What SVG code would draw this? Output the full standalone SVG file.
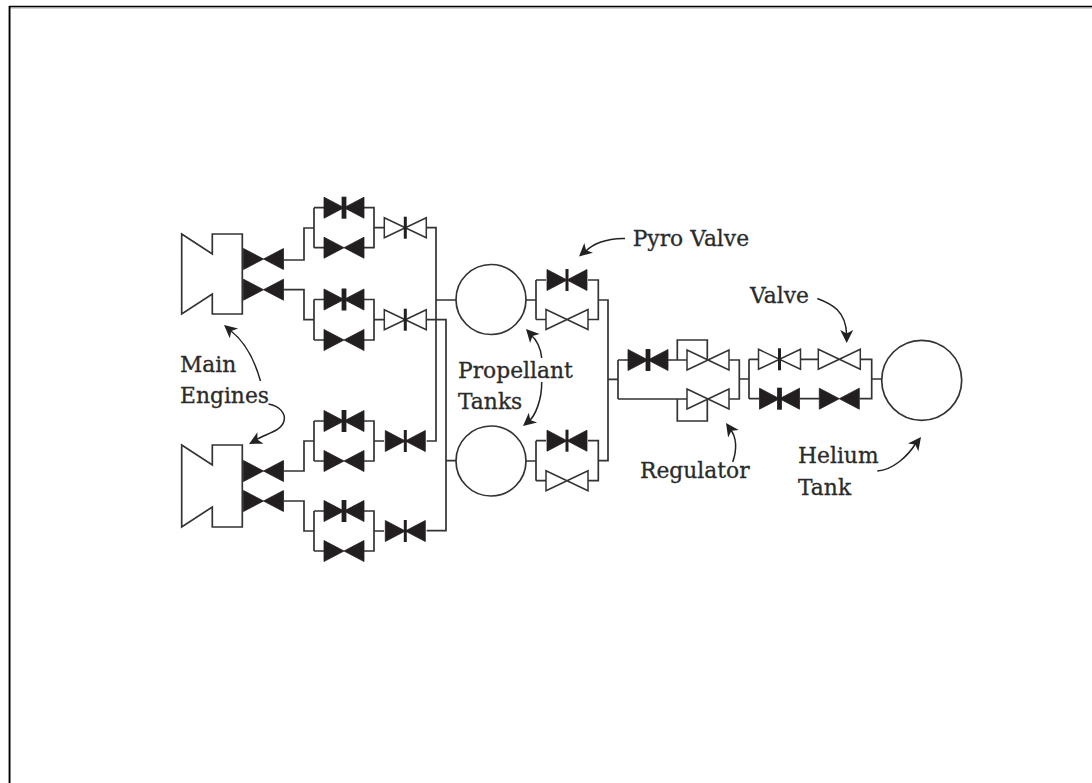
<svg xmlns="http://www.w3.org/2000/svg" width="1092" height="783" viewBox="0 0 1092 783">
<style>
.w{fill:none;stroke:#333;stroke-width:1.7}
.a{fill:none;stroke:#222;stroke-width:1.5}
.ah{fill:#222;stroke:none}
.o{fill:#fff;stroke:#333;stroke-width:1.5}
.f{fill:#231f20;stroke:#231f20;stroke-width:.8}
.t{font-family:"DejaVu Serif",serif;font-size:21.8px;fill:#2b2b2b;stroke:#2b2b2b;stroke-width:.3}
.tk{fill:#fff;stroke:#333;stroke-width:1.7}
.frame{fill:none;stroke:#000;stroke-width:1.6}
.shade{fill:none;stroke:#aaa;stroke-width:1}
</style>
<defs>
<g id="fv"><path class="f" d="M-20-10.5L0 0L20-10.5V10.5L0 0L-20 10.5Z"/></g>
<g id="fp"><use href="#fv"/><rect x="-2.4" y="-11" width="4.8" height="22" fill="#231f20"/></g>
<g id="ft"><use href="#fv"/><rect x="-1.5" y="-11" width="3" height="22" fill="#231f20"/></g>
<g id="ov"><path class="o" d="M-21-10L21 10V-10L-21 10Z"/></g>
<g id="ot"><use href="#ov"/><rect x="-1.5" y="-11" width="3" height="22" fill="#231f20"/></g>
<g id="ah"><path class="ah" d="M0 0L-13-6.5L-9.5 0L-13 6.5Z"/></g>
</defs>
<rect width="1092" height="783" fill="#fff"/>
<path class="shade" d="M8.5 783V6"/>
<path class="shade" d="M9 8H1092"/>
<path class="frame" d="M9.7 783V6.5H1092"/>
<g id="connectors">
<path class="w" d="M284 260H304V228H314M314 207.7V247.7M314 207.7H324M314 247.7H324M364 207.7H374V247.7H364M374 227.7H384M426.7 227.7H436V441H426.7M436 300H456"/>
<path class="w" d="M284 289.7H304V319.7H314M314 299.5V340M314 299.5H324M314 340H324M364 299.5H374V340H364M374 319.7H384M426.7 319.7H446V530.7H426.7M446 460.7H456"/>
<path class="w" d="M284 471H304V441H314M314 421V461M314 421H324M314 461H324M364 421H374V461H364M374 441H384"/>
<path class="w" d="M284 501H304V531H314M314 511V551M314 511H324M314 551H324M364 511H374V551H364M374 531H384"/>
<path class="w" d="M526 300H536M536 280V319.5M536 280H546M536 319.5H546M588 280H598.3V319.5H588M598.3 300H608V460.7H598.3M526 461H536M536 440.7V480.7M536 440.7H546M536 480.7H546M588 440.7H598.3V480.7H588"/>
<path class="w" d="M608 379.3H618M618 360V399M618 360H628M668 360H687M618 399H687M677.3 360V340H707.3V360M677.3 399V421H707.3V399M729.3 360H739.3V399H729.3M739.3 379H749M749 359.3V398.7M749 359.3H759M749 398.7H759M800 359.3H819M800 398.7H819M859.5 359.3H871.7V398.7H859.5M871.7 379H882"/>
</g>
<g id="engine-1"><path class="tk" d="M181.7 234L212.3 254V234H242.3V314H212.3V294L181.7 314Z"/></g>
<g id="engine-2"><path class="tk" d="M181.7 445L212.3 465V445H242.3V527H212.3V507L181.7 527Z"/></g>
<g id="tank-1"><circle class="tk" cx="491" cy="299.5" r="35"/></g>
<g id="tank-2"><circle class="tk" cx="491" cy="461" r="35"/></g>
<g id="helium-tank"><circle class="tk" cx="921.7" cy="380.3" r="40"/></g>
<g id="v1"><use href="#fv" transform="translate(263.5 259)"/></g>
<g id="v2"><use href="#fv" transform="translate(263.5 289.7)"/></g>
<g id="v3"><use href="#fv" transform="translate(263.5 471)"/></g>
<g id="v4"><use href="#fv" transform="translate(263.5 501)"/></g>
<g id="v5"><use href="#fp" transform="translate(344 207.7)"/></g>
<g id="v6"><use href="#fv" transform="translate(344 247.7)"/></g>
<g id="v7"><use href="#fp" transform="translate(344 299.5)"/></g>
<g id="v8"><use href="#fv" transform="translate(344 340)"/></g>
<g id="v9"><use href="#fp" transform="translate(344 421)"/></g>
<g id="v10"><use href="#fv" transform="translate(344 461)"/></g>
<g id="v11"><use href="#fp" transform="translate(344 511)"/></g>
<g id="v12"><use href="#fv" transform="translate(344 551)"/></g>
<g id="v13"><use href="#ot" transform="translate(405.3 227.7)"/></g>
<g id="v14"><use href="#ot" transform="translate(405.3 319.7)"/></g>
<g id="v15"><use href="#ft" transform="translate(405.3 441)"/></g>
<g id="v16"><use href="#ft" transform="translate(405.3 531)"/></g>
<g id="v17"><use href="#ft" transform="translate(567 280)"/></g>
<g id="v18"><use href="#ov" transform="translate(567 319.5)"/></g>
<g id="v19"><use href="#ft" transform="translate(567 440.7)"/></g>
<g id="v20"><use href="#ov" transform="translate(567 480.7)"/></g>
<g id="v21"><use href="#fp" transform="translate(648 360)"/></g>
<g id="v22"><use href="#ov" transform="translate(708 360)"/></g>
<g id="v23"><use href="#ov" transform="translate(708 399)"/></g>
<g id="v24"><use href="#ot" transform="translate(779.5 359.3)"/></g>
<g id="v25"><use href="#ov" transform="translate(839.3 359.3)"/></g>
<g id="v26"><use href="#fp" transform="translate(779.5 398.7)"/></g>
<g id="v27"><use href="#fv" transform="translate(839.3 398.7)"/></g>
<g id="arrows">
<path class="a" d="M260.5 381C254 358 245 342 231 331"/><use href="#ah" transform="translate(224 325) rotate(-140)"/>
<path class="a" d="M268.5 404C280 406 286 414 284 421C281 432 264 434 256 440"/><use href="#ah" transform="translate(249 444) rotate(152)"/>
<path class="a" d="M625 238.5C605 238 592 245 586 251"/><use href="#ah" transform="translate(579 256.5) rotate(138)"/>
<path class="a" d="M541.7 358C541 348 536 339 531 335"/><use href="#ah" transform="translate(526 329) rotate(-133)"/>
<path class="a" d="M541.7 382C542 400 535 416 529 421"/><use href="#ah" transform="translate(523 426) rotate(140)"/>
<path class="a" d="M732.7 462C737 450 737 437 730 429"/><use href="#ah" transform="translate(726 423) rotate(-125)"/>
<path class="a" d="M817.3 298.5C832 304 846 311 846.7 335"/><use href="#ah" transform="translate(846.7 343) rotate(90)"/>
<path class="a" d="M877.3 471C893 470 908 456 916 443"/><use href="#ah" transform="translate(921 437) rotate(-53)"/>
</g>
<g id="labels">
<text class="t" x="180" y="371.5">Main</text>
<text class="t" x="180" y="402.5">Engines</text>
<text class="t" x="458" y="377.5">Propellant</text>
<text class="t" x="458" y="409">Tanks</text>
<text class="t" x="632.7" y="246">Pyro Valve</text>
<text class="t" x="640" y="478">Regulator</text>
<text class="t" x="750" y="303">Valve</text>
<text class="t" x="798" y="462.5">Helium</text>
<text class="t" x="798" y="494.5">Tank</text>
</g>
</svg>
